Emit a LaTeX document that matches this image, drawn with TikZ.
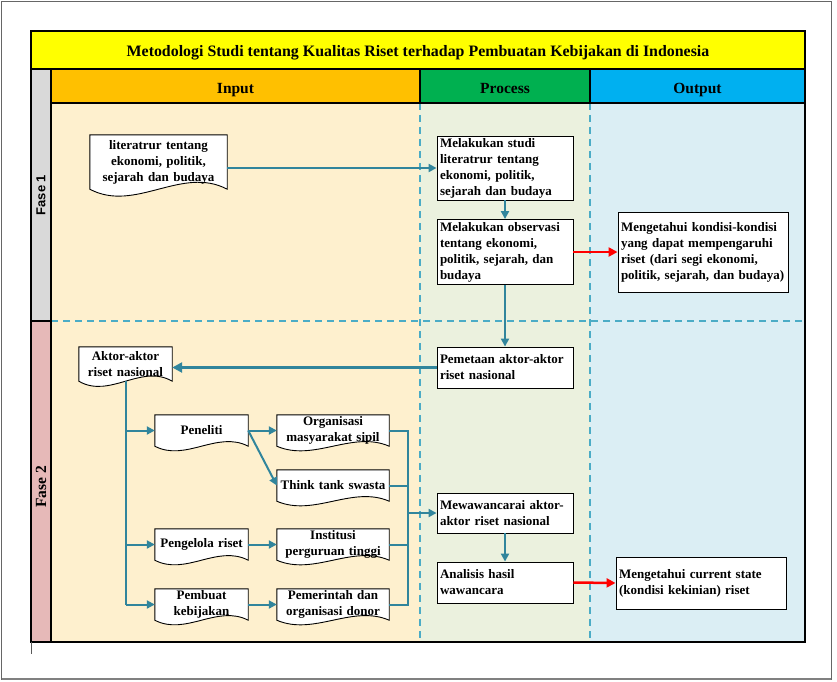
\documentclass[tikz,border=0pt]{standalone}
\usepackage{fontspec}
\setmainfont{Liberation Serif}
\newfontfamily\arialfont{Liberation Sans}
\usetikzlibrary{arrows.meta,calc}
\definecolor{tealc}{HTML}{31859C}
\definecolor{dashc}{HTML}{4BACC6}
\definecolor{inhead}{HTML}{FFC000}
\definecolor{prhead}{HTML}{00B050}
\definecolor{outhead}{HTML}{00B0F0}
\definecolor{inbg}{HTML}{FEF0CE}
\definecolor{prbg}{HTML}{EBF1DE}
\definecolor{outbg}{HTML}{DBEEF4}
\definecolor{faseone}{HTML}{D9D9D9}
\definecolor{fasetwo}{HTML}{E6B9B8}
\definecolor{titlec}{HTML}{FFFF00}
\pgfdeclarelayer{bg}
\pgfdeclarelayer{docl}
\pgfsetlayers{bg,docl,main}
\newcommand\docframe[2]{%
  \draw[docline] (#1.north west) -- (#1.north east) -- (#1.south east)
    .. controls ($(#1.south east)!0.33!(#1.south west)+(0,-#2)$) and ($(#1.south east)!0.67!(#1.south west)+(0,#2)$) .. (#1.south west) -- cycle;}
\begin{document}
\begin{tikzpicture}[x=1pt,y=-1pt,
  every node/.style={font=\fontsize{13}{16}\selectfont\bfseries, inner sep=0pt},
  pbox/.style={draw=black, line width=0.9pt, fill=white, align=left, inner xsep=3pt, inner ysep=0pt},
  docn/.style={align=center, inner sep=0pt},
  docline/.style={draw=black, line width=0.9pt, fill=white},
  frameline/.style={draw=black, line width=1.2pt},
  lanedash/.style={draw=dashc, line width=1.2pt, dash pattern=on 7pt off 5pt},
  headtxt/.style={font=\fontsize{15.5}{18}\selectfont\bfseries},
  tl/.style={draw=tealc, line width=2pt},
  tla/.style={tl, -{Triangle[length=8pt,width=8pt]}},
  tlthick/.style={draw=tealc, line width=3pt, -{Triangle[length=10pt,width=10pt]}},
  rla/.style={draw=red, line width=2.5pt, -{Triangle[length=9pt,width=9pt]}}]
\useasboundingbox (0,0) rectangle (837,681);

\begin{pgfonlayer}{bg}
  \fill[white] (0,0) rectangle (837,681);
  % outer frame
  \draw[gray!80!black, line width=1pt] (1.5,1.5) rectangle (831,679);
  \draw[gray, line width=2.5pt] (1.5,679) -- (831,679);
  % fills
  \fill[titlec] (31,31) rectangle (805,69);
  \fill[faseone] (31,69) rectangle (51,321);
  \fill[fasetwo] (31,321) rectangle (51,642);
  \fill[inhead] (51,69) rectangle (420,103);
  \fill[prhead] (420,69) rectangle (590,103);
  \fill[outhead] (590,69) rectangle (805,103);
  \fill[inbg] (51,103) rectangle (420,642);
  \fill[prbg] (420,103) rectangle (590,642);
  \fill[outbg] (590,103) rectangle (805,642);
  % dashed lane separators
  \draw[lanedash] (420,103) -- (420,642);
  \draw[lanedash] (590,103) -- (590,642);
  \draw[lanedash] (51,321) -- (805,321);
  % frame lines
  \draw[frameline] (31,31) rectangle (805,642);
  \draw[frameline] (31,69) -- (805,69);
  \draw[frameline] (51,103) -- (805,103);
  \draw[frameline] (51,69) -- (51,642);
  \draw[frameline] (420,69) -- (420,103);
  \draw[frameline] (590,69) -- (590,103);
  \draw[frameline] (31,321) -- (51,321);
  \draw[gray!70!black, line width=0.8pt] (31,642) -- (31,654);
\end{pgfonlayer}

% title and headers
\node[font=\fontsize{15.9}{19}\selectfont\bfseries, anchor=base] (title) at (418,56) {Metodologi Studi tentang Kualitas Riset terhadap Pembuatan Kebijakan di Indonesia};
\node[headtxt, anchor=base] (hin) at (235.5,93) {Input};
\node[headtxt, anchor=base] (hpr) at (505,93) {Process};
\node[headtxt, anchor=base] (hout) at (697.5,93) {Output};
\node[font=\arialfont\fontsize{13}{16}\selectfont\bfseries, rotate=90] (f1) at (41,195) {Fase 1};
\node[headtxt, rotate=90] (f2) at (41,487) {Fase 2};

% process boxes
\node[pbox, minimum width=136pt, minimum height=64pt, text width=130pt] (studi) at (505,168)
  {Melakukan studi\\literatrur tentang\\ekonomi, politik,\\sejarah dan budaya};
\node[pbox, minimum width=136pt, minimum height=65pt, text width=130pt] (obs) at (505,252)
  {Melakukan observasi\\tentang ekonomi,\\politik, sejarah, dan\\budaya};
\node[pbox, minimum width=170pt, minimum height=80pt, text width=164pt] (kond) at (703,252)
  {Mengetahui kondisi-kondisi\\yang dapat mempengaruhi\\riset (dari segi ekonomi,\\politik, sejarah, dan budaya)};
\node[pbox, minimum width=136pt, minimum height=41pt, text width=130pt] (pem) at (505,367.5)
  {Pemetaan aktor-aktor\\riset nasional};
\node[pbox, minimum width=136pt, minimum height=40pt, text width=130pt] (mew) at (505,513)
  {Mewawancarai aktor-\\aktor riset nasional};
\node[pbox, minimum width=136pt, minimum height=41pt, text width=130pt] (ana) at (505,582.5)
  {Analisis hasil\\wawancara};
\node[pbox, minimum width=170pt, minimum height=52pt, text width=164pt] (cur) at (701,583)
  {Mengetahui current state\\(kondisi kekinian) riset};

% document shapes
\node[docn, minimum width=137pt, minimum height=54pt, text width=133pt] (lit) at (158.5,162)
  {literatrur tentang\\ekonomi, politik,\\sejarah dan budaya};
\node[docn, minimum width=93pt, minimum height=34pt, text width=90pt] (akt) at (125.5,364)
  {Aktor-aktor\\riset nasional};
\node[docn, minimum width=93pt, minimum height=31pt, text width=90pt] (pen) at (201.5,430.5) {Peneliti};
\node[docn, minimum width=93pt, minimum height=31pt, text width=90pt] (pgl) at (201.5,544.5) {Pengelola riset};
\node[docn, minimum width=93pt, minimum height=31pt, text width=90pt] (pmb) at (201.5,604.5) {Pembuat\\kebijakan};
\node[docn, minimum width=112pt, minimum height=31pt, text width=109pt] (org) at (333,430.5) {Organisasi\\masyarakat sipil};
\node[docn, minimum width=112pt, minimum height=31pt, text width=109pt] (tt) at (333,485.5) {Think tank swasta};
\node[docn, minimum width=112pt, minimum height=31pt, text width=109pt] (ins) at (333,544.5) {Institusi\\perguruan tinggi};
\node[docn, minimum width=112pt, minimum height=31pt, text width=109pt] (pmr) at (333,604.5) {Pemerintah dan\\organisasi donor};

\begin{pgfonlayer}{docl}
  \docframe{lit}{24}
  \docframe{akt}{18}
  \docframe{pen}{16}
  \docframe{pgl}{16}
  \docframe{pmb}{16}
  \docframe{org}{16}
  \docframe{tt}{16}
  \docframe{ins}{16}
  \docframe{pmr}{16}
\end{pgfonlayer}

\coordinate (cx) at (408,513);

% connectors
\draw[tla] (studi.west -| lit.east) -- (studi.west);
\draw[tla] (studi.south) -- (obs.north);
\draw[rla] (obs.east) -- (kond.west);
\draw[tla] (obs.south) -- (pem.north);
\draw[tlthick] (pem.west) -- (pem.west -| akt.east);
\draw[tl] (akt.south) -- (pmb.west -| akt.south);
\draw[tla] (pen.west -| akt.south) -- (pen.west);
\draw[tla] (pgl.west -| akt.south) -- (pgl.west);
\draw[tla] (pmb.west -| akt.south) -- (pmb.west);
\draw[tla] (pen.east) -- (org.west);
\draw[tla] (pen.east) -- (tt.west);
\draw[tla] (pgl.east) -- (ins.west);
\draw[tla] (pmb.east) -- (pmr.west);
\draw[tl] (org.east) -- (org.east -| cx) -- (pmr.east -| cx) -- (pmr.east);
\draw[tl] (tt.east) -- (tt.east -| cx);
\draw[tl] (ins.east) -- (ins.east -| cx);
\draw[tla] (cx) -- (mew.west);
\draw[tla] (mew.south) -- (ana.north);
\draw[rla] (ana.east) -- (cur.west);
\end{tikzpicture}
\end{document}
